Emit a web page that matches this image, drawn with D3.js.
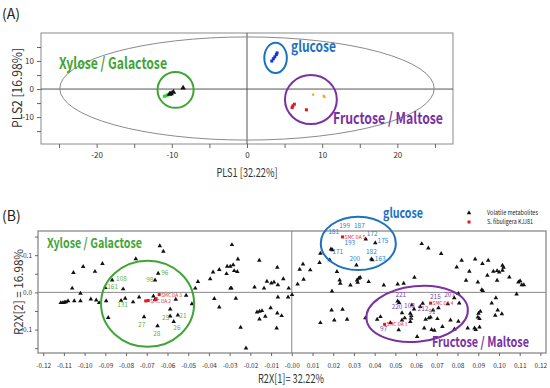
<!DOCTYPE html>
<html>
<head>
<meta charset="utf-8">
<title>PLS-DA score and loading plots</title>
<style>
  body { margin: 0; background: #fff; }
  text { font-family: "Noto Sans CJK KR", "Noto Sans", sans-serif; }
</style>
</head>
<body>
<script src="https://cdnjs.cloudflare.com/ajax/libs/d3/7.8.5/d3.min.js"></script>
<script>
// ---------- data : panel A (scores) ----------
var aXTicks = [-25, -20, -15, -10, -5, 0, 5, 10, 15, 20, 25];
var aXTickLabels = ["", "-20", "", "-10", "", "0", "", "10", "", "20", ""];
var aYTicks = [-15, -10, -5, 0, 5, 10, 15];
var aYTickLabels = ["", "-10", "", "0", "", "10", ""];

var aXylose = [[-11.0, -2.6], [-10.8, -2.4], [-10.6, -2.2], [-10.5, -2.0]];
var aTriangles = [[-10.3, -1.8], [-10.1, -1.6], [-9.8, -1.1], [-8.5, 0.4]];
var aGlucose = [[3.3, 10.0], [3.5, 10.8], [3.7, 11.5], [3.9, 12.3], [4.0, 12.9]];
var aFructose = [[6.0, -6.6], [6.1, -6.0], [6.3, -5.4], [7.9, -7.4]];
var aMaltose = [[8.8, -2.0], [10.2, -2.4], [10.3, -2.8]];

// ---------- data : panel B (loadings) ----------
var bXTicks = d3.range(-12, 13).map(function(d) { return d / 100; });
var bXTickLabels = ["-0.12", "-0.11", "-0.10", "-0.09", "-0.08", "-0.07", "-0.06", "-0.05", "-0.04",
  "-0.03", "-0.02", "-0.01", "-0.00", "0.01", "0.02", "0.03", "0.04", "0.05", "0.06", "0.07",
  "0.08", "0.09", "0.10", "0.11", "0.12"];
var bYTicks = [-0.15, -0.1, -0.05, 0, 0.05, 0.1, 0.15];
var bYTickLabels = ["", "-0.1", "", "0.0", "", "0.1", ""];

var bMetabolites = [
  [-0.1115, -0.028], [-0.1105, -0.028], [-0.1098, -0.027], [-0.109, -0.026], [-0.108, -0.023],
  [-0.105, -0.023], [-0.102, -0.023], [-0.102, -0.003], [-0.106, 0.011], [-0.1054, 0.053],
  [-0.1007, 0.069], [-0.095, 0.056], [-0.0914, 0.077], [-0.097, -0.018], [-0.0944, -0.021],
  [-0.093, -0.028], [-0.0896, -0.023], [-0.090, 0.0125], [-0.0867, 0.033], [-0.0886, -0.068],
  [-0.0824, -0.022], [-0.0804, -0.016], [-0.0814, 0.009], [-0.0753, 0.090], [-0.0766, -0.026],
  [-0.0737, -0.013], [-0.0713, -0.066], [-0.0668, -0.010], [-0.066, -0.019], [-0.066, 0.033],
  [-0.0645, 0.051], [-0.0648, -0.090], [-0.0637, 0.125], [-0.062, 0.110], [-0.056, -0.019],
  [-0.0587, -0.045], [-0.0587, -0.064], [-0.057, -0.079], [-0.055, -0.061], [-0.051, -0.008],
  [-0.0482, -0.031], [-0.0466, 0.011], [-0.0453, 0.029],
  [-0.0394, 0.036], [-0.038, 0.0545], [-0.035, 0.061], [-0.0374, -0.017], [-0.035, -0.0395],
  [-0.0315, 0.050], [-0.0312, 0.070], [-0.0297, 0.070], [-0.0283, 0.074], [-0.0289, 0.128],
  [-0.0278, 0.058], [-0.0263, 0.0555], [-0.026, 0.0895], [-0.0296, 0.011], [-0.0291, 0.011],
  [-0.027, -0.016], [-0.0247, -0.094], [-0.0221, -0.150], [-0.0157, 0.086], [-0.018, 0.014],
  [-0.0134, 0.011], [-0.012, 0.0295], [-0.0099, 0.025], [-0.0086, 0.0277], [-0.0067, 0.020],
  [-0.007, 0.067], [-0.0041, 0.036], [-0.0015, 0.011], [0.0001, -0.0065], [-0.0018, -0.013],
  [-0.0067, -0.013], [-0.0168, -0.053], [-0.0156, -0.051], [-0.0144, -0.0495], [-0.0156, -0.072],
  [-0.0128, -0.0645], [-0.0102, -0.042], [-0.007, -0.0557], [-0.0049, -0.063], [-0.0073, -0.096],
  [0.0028, 0.022], [0.0038, 0.062], [0.0054, 0.076], [0.0057, 0.035], [0.0089, 0.060],
  [0.0134, 0.080], [0.0138, 0.105], [0.0183, 0.087], [0.0189, 0.116], [0.0196, 0.114],
  [0.0218, 0.0555], [0.0231, 0.033], [0.0234, 0.024], [0.0194, 0.0035], [0.0312, 0.0734],
  [0.0315, 0.033], [0.0323, 0.0376], [0.033, 0.040], [0.0318, 0.027], [0.0283, 0.0196],
  [0.0371, 0.0285], [0.0357, 0.143], [0.0403, 0.133], [0.0384, 0.0895], [0.0389, 0.087],
  [0.0444, 0.0196], [0.0511, 0.022], [0.054, 0.024], [0.0592, 0.040],
  [0.0511, -0.0234], [0.0518, -0.028], [0.0192, -0.0476], [0.0245, -0.046], [0.0138, -0.0817],
  [0.0205, -0.0745], [0.0267, -0.0726], [0.0355, -0.069], [0.0412, -0.0726], [0.0428, -0.0656],
  [0.0476, -0.0817], [0.0516, -0.101], [0.0532, -0.0745], [0.0572, -0.0565], [0.0577, -0.063],
  [0.0576, -0.070], [0.0572, -0.079], [0.0605, -0.119], [0.058, -0.034], [0.059, -0.045],
  [0.062, -0.0386], [0.0545, -0.069], [0.0532, -0.055],
  [0.0627, 0.1306], [0.0659, 0.119], [0.0721, 0.104], [0.082, 0.086], [0.0796, 0.068],
  [0.0857, 0.0564], [0.0841, 0.032], [0.0885, 0.0895], [0.0898, 0.0277], [0.092, 0.077],
  [0.0948, 0.086], [0.0944, 0.0457], [0.0973, 0.0564], [0.0991, 0.058], [0.1001, 0.0546],
  [0.1017, 0.0726], [0.1022, 0.067], [0.1017, 0.059], [0.0991, 0.032], [0.105, 0.041],
  [0.1094, 0.0277], [0.1102, 0.031], [0.111, 0.020], [0.112, 0.020], [0.1085, -0.0046],
  [0.0917, 0.007], [0.0922, 0.0043], [0.0804, -0.0037], [0.0784, -0.015], [0.0808, -0.029],
  [0.0753, -0.0314], [0.0708, -0.042], [0.0632, -0.0296], [0.0682, -0.048], [0.0646, -0.0726],
  [0.0662, -0.069], [0.067, -0.067], [0.0703, -0.071], [0.0639, -0.096], [0.0675, -0.1005],
  [0.0688, -0.102], [0.0727, -0.0924], [0.0766, -0.0745], [0.0785, -0.0987], [0.0804, -0.078],
  [0.0849, -0.096], [0.0882, -0.096], [0.0888, -0.1005], [0.0906, -0.0933], [0.0898, -0.067],
  [0.0901, -0.0565], [0.091, -0.051], [0.0906, -0.071], [0.0965, -0.029], [0.0985, -0.015],
  [0.0982, -0.062], [0.0994, -0.0476], [0.1014, -0.058]
];

var bStrains = [[-0.0705, -0.023], [-0.0693, -0.022], [-0.0655, -0.017], [-0.064, -0.006],
  [0.0245, 0.149], [0.0448, -0.086], [0.067, -0.029]];
var bStrainNames = ["", "SMC DA 2", "", "SMC DA 3", "SMC DA 5", "SMC DA 1", "SMC DA 4"];

// numbered metabolites: [label, x, y]
var bXyloseIds = [["108", -0.0848, 0.031], ["161", -0.0891, 0.009], ["131", -0.0843, -0.0395],
  ["98", -0.0703, 0.028], ["96", -0.063, 0.0465], ["27", -0.0742, -0.093], ["28", -0.0669, -0.117],
  ["25", -0.0626, -0.0745], ["26", -0.0572, -0.101], ["21", -0.0543, -0.070]];
var bGlucoseIds = [["199", 0.0229, 0.1737], ["187", 0.0300, 0.1737], ["181", 0.0176, 0.156],
  ["172", 0.0362, 0.151], ["175", 0.0414, 0.133], ["193", 0.0254, 0.127], ["171", 0.0196, 0.103],
  ["182", 0.0358, 0.102], ["163", 0.0401, 0.084], ["200", 0.0278, 0.084]];
var bFructoseIds = [["221", 0.050, -0.0134], ["220", 0.0482, -0.0457], ["108", 0.0542, -0.043],
  ["212", 0.0607, -0.0495], ["215", 0.0667, -0.019], ["207", 0.0736, -0.012], ["91", 0.0659, -0.058],
  ["8", 0.0563, -0.0745], ["97", 0.0426, -0.104]];

var green = "#3fa535", blue = "#1d72bf", purple = "#7a31a3";

var svg = d3.select("body").append("svg").attr("width", 550).attr("height", 388);

// ================= panel A =================
var xA = d3.scaleLinear().domain([-27.4, 27.4]).range([41, 453]);
var yA = d3.scaleLinear().domain([-19.6, 20]).range([144, 33]);
var gA = svg.append("g");

gA.append("text").attr("x", 2).attr("y", 19).attr("font-size", 14).attr("fill", "#222").text("(A)");

gA.append("rect").attr("x", 41).attr("y", 33).attr("width", 412).attr("height", 111)
  .attr("fill", "none").attr("stroke", "#8a8a8a");

gA.append("line").attr("x1", 41).attr("x2", 453).attr("y1", yA(0)).attr("y2", yA(0)).attr("stroke", "#555");
gA.append("line").attr("x1", xA(0)).attr("x2", xA(0)).attr("y1", 33).attr("y2", 144).attr("stroke", "#555");

gA.append("ellipse").attr("cx", xA(0)).attr("cy", yA(0.2))
  .attr("rx", xA(24.9) - xA(0)).attr("ry", yA(0) - yA(18.4))
  .attr("fill", "none").attr("stroke", "#8a8a8a");

var axA = gA.append("g").attr("transform", "translate(0,144)")
  .call(d3.axisBottom(xA).tickValues(aXTicks).tickSize(4).tickFormat(function(d, i) { return aXTickLabels[i]; }));
var ayA = gA.append("g").attr("transform", "translate(41,0)")
  .call(d3.axisLeft(yA).tickValues(aYTicks).tickSize(4).tickFormat(function(d, i) { return aYTickLabels[i]; }));
[axA, ayA].forEach(function(a) {
  a.select(".domain").remove();
  a.selectAll("line").attr("stroke", "#666");
  a.selectAll("text").attr("font-size", 8).attr("fill", "#333");
});
axA.selectAll("text").attr("dy", "0.9em");

gA.append("text").attr("x", xA(0)).attr("y", 177).attr("text-anchor", "middle")
  .attr("font-size", 12).attr("fill", "#333").attr("textLength", 61).attr("lengthAdjust", "spacingAndGlyphs")
  .text("PLS1 [32.22%]");
gA.append("text").attr("transform", "translate(22,88) rotate(-90)").attr("text-anchor", "middle")
  .attr("font-size", 13).attr("fill", "#333").attr("textLength", 80).attr("lengthAdjust", "spacingAndGlyphs")
  .text("PLS2 [16.98%]");

// group circles
function ring(g, x, y, cx, cy, rx, ry, col, rot) {
  g.append("ellipse").attr("cx", x(cx)).attr("cy", y(cy))
    .attr("rx", Math.abs(x(cx + rx) - x(cx))).attr("ry", Math.abs(y(cy + ry) - y(cy)))
    .attr("transform", "rotate(" + (rot || 0) + "," + x(cx) + "," + y(cy) + ")")
    .attr("fill", "none").attr("stroke", col).attr("stroke-width", 2);
}
ring(gA, xA, yA, -9.5, -0.3, 2.4, 6.4, green);
ring(gA, xA, yA, 3.8, 11.1, 1.5, 5.4, blue);
ring(gA, xA, yA, 8.5, -3.75, 3.45, 8.75, purple);

function squares(g, pts, x, y, s, col) {
  g.selectAll(null).data(pts).enter().append("rect")
    .attr("x", function(d) { return x(d[0]) - s / 2; })
    .attr("y", function(d) { return y(d[1]) - s / 2; })
    .attr("width", s).attr("height", s).attr("fill", col);
}
function triangles(g, pts, x, y, size, col) {
  g.selectAll(null).data(pts).enter().append("path")
    .attr("d", d3.symbol(d3.symbolTriangle).size(size))
    .attr("transform", function(d) { return "translate(" + x(d[0]) + "," + y(d[1]) + ")"; })
    .attr("fill", col);
}
squares(gA, aXylose, xA, yA, 3, "#35d23a");
triangles(gA, aTriangles, xA, yA, 14, "#111");
squares(gA, aGlucose, xA, yA, 3, "#1530e0");
squares(gA, aFructose, xA, yA, 3, "#e8141b");
squares(gA, aMaltose, xA, yA, 2.2, "#f5a623");

function label(g, txt, x, y, size, col, len) {
  g.append("text").attr("x", x).attr("y", y).attr("font-size", size).attr("font-weight", "bold")
    .attr("fill", col).attr("textLength", len).attr("lengthAdjust", "spacingAndGlyphs").text(txt);
}
label(gA, "Xylose / Galactose", 59, 69, 16, green, 108);
label(gA, "glucose", 291, 52, 15, blue, 45);
label(gA, "Fructose / Maltose", 333, 124, 16, purple, 110);

// ================= panel B =================
var xB = d3.scaleLinear().domain([-0.1225, 0.1227]).range([38, 546]);
var yB = d3.scaleLinear().domain([-0.163, 0.165]).range([353, 231]);
var gB = svg.append("g");

gB.append("text").attr("x", 2).attr("y", 221).attr("font-size", 14).attr("fill", "#222").text("(B)");

gB.append("rect").attr("x", 38).attr("y", 231).attr("width", 508).attr("height", 122)
  .attr("fill", "none").attr("stroke", "#999").attr("stroke-width", 1.5);
gB.append("line").attr("x1", 38).attr("x2", 546).attr("y1", yB(0)).attr("y2", yB(0)).attr("stroke", "#888");
gB.append("line").attr("x1", xB(0)).attr("x2", xB(0)).attr("y1", 231).attr("y2", 353).attr("stroke", "#888");

var axB = gB.append("g").attr("transform", "translate(0,353)")
  .call(d3.axisBottom(xB).tickValues(bXTicks).tickSize(3).tickFormat(function(d, i) { return bXTickLabels[i]; }));
var ayB = gB.append("g").attr("transform", "translate(38,0)")
  .call(d3.axisLeft(yB).tickValues(bYTicks).tickSize(3).tickFormat(function(d, i) { return bYTickLabels[i]; }));
[axB, ayB].forEach(function(a) {
  a.select(".domain").remove();
  a.selectAll("line").attr("stroke", "#666");
  a.selectAll("text").attr("font-size", 6.5).attr("fill", "#333");
});
axB.selectAll("text").attr("dy", "1.4em");

gB.append("text").attr("x", 258).attr("y", 383)
  .attr("font-size", 12).attr("fill", "#333").attr("textLength", 66).attr("lengthAdjust", "spacingAndGlyphs")
  .text("R2X[1]= 32.22%");
gB.append("text").attr("transform", "translate(23,292) rotate(-90)").attr("text-anchor", "middle")
  .attr("font-size", 12).attr("fill", "#333").attr("textLength", 86).attr("lengthAdjust", "spacingAndGlyphs")
  .text("R2X[2] =  16.98%");

triangles(gB, bMetabolites, xB, yB, 9, "#111");
squares(gB, bStrains, xB, yB, 3, "#e8141b");
gB.selectAll(null).data(bStrains).enter().append("text")
  .attr("x", function(d) { return xB(d[0]) + 2; })
  .attr("y", function(d) { return yB(d[1]) + 2; })
  .attr("font-size", 4.8).attr("fill", "#e8141b")
  .text(function(d, i) { return bStrainNames[i]; });

function ids(rows, col) {
  gB.selectAll(null).data(rows).enter().append("text")
    .attr("x", function(d) { return xB(d[1]); })
    .attr("y", function(d) { return yB(d[2]); })
    .attr("font-size", 6.5).attr("fill", col)
    .text(function(d) { return d[0]; });
}
ids(bXyloseIds, "#5cb548");
ids(bGlucoseIds, "#2a88cf");
ids(bFructoseIds, "#8048aa");

ring(gB, xB, yB, -0.0696, -0.0306, 0.02246, 0.1156, green);
ring(gB, xB, yB, 0.0321, 0.1317, 0.0181, 0.0718, blue);
ring(gB, xB, yB, 0.0605, -0.0578, 0.0246, 0.0747, purple, -6);

label(gB, "Xylose / Galactose", 47, 248, 13.5, green, 95);
label(gB, "glucose", 383, 218, 14, blue, 40);
label(gB, "Fructose / Maltose", 432, 347, 14, purple, 97);

// legend
triangles(gB, [[0, 0]], function() { return 469; }, function() { return 213; }, 9, "#111");
squares(gB, [[0, 0]], function() { return 469; }, function() { return 222; }, 3, "#e8141b");
gB.append("text").attr("x", 487).attr("y", 215).attr("font-size", 6.5).attr("fill", "#222")
  .attr("textLength", 51).attr("lengthAdjust", "spacingAndGlyphs").text("Volatile metabolites");
gB.append("text").attr("x", 487).attr("y", 224).attr("font-size", 6.5).attr("fill", "#222")
  .attr("textLength", 46).attr("lengthAdjust", "spacingAndGlyphs").text("S. fibuligera KJJ81");
</script>
</body>
</html>
